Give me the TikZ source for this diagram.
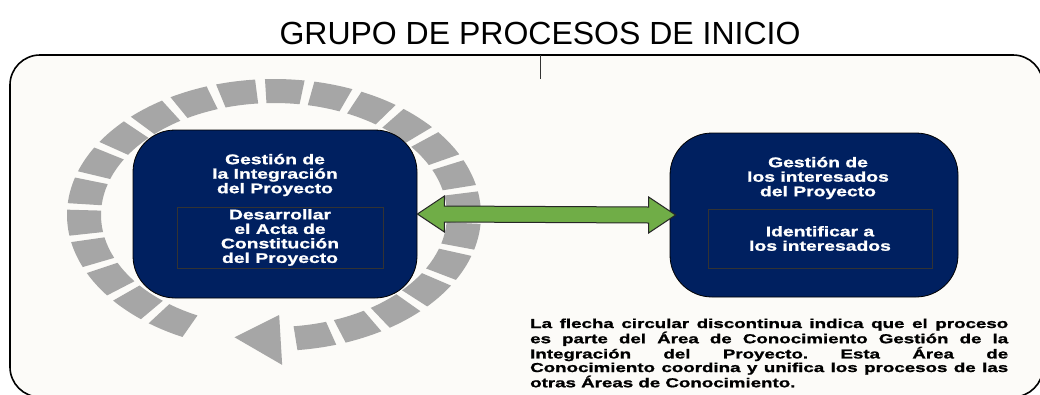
\documentclass[tikz,border=0pt]{standalone}
\usepackage{fontspec}
\usepackage{tikz}
\usetikzlibrary{calc}
\newfontfamily\titlefont{Liberation Sans}
\newfontfamily\boxfont[FakeStretch=1.38,BoldFeatures={FakeBold=1.2}]{Liberation Sans}
\newfontfamily\notefont[FakeStretch=1.44,BoldFeatures={FakeBold=1.2}]{Liberation Sans}
\definecolor{navyfill}{RGB}{0,32,96}
\definecolor{ringgray}{RGB}{166,166,166}
\definecolor{arrowgreen}{RGB}{112,173,71}
\definecolor{paper}{RGB}{252,251,248}

\begin{document}
\begin{tikzpicture}[x=1pt,y=-1pt,
    areabox/.style={draw=black,line width=0.8pt,fill=navyfill,rounded corners=42pt,inner sep=0pt},
    procbox/.style={draw=black!80,line width=0.6pt,inner sep=0pt},
    boxtext/.style={text=white,align=center,inner sep=0pt,font=\boxfont\bfseries\fontsize{14}{14.5}\selectfont},
    notetext/.style={text width=478pt,align=justify,inner sep=0pt,font=\notefont\bfseries\frenchspacing\fontsize{13}{13.6}\selectfont},
    dblarrow/.style={fill=arrowgreen,draw=black!85,line width=1pt,line join=miter}]
            \clip (0,0) rectangle (1040,394);
            \draw[line width=1.6pt,fill=paper,rounded corners=30pt] (10,55) rectangle (1043,397);
            \draw[line width=0.8pt,black!80] (540,55) -- (540,79);
            %
            \node[anchor=base,font=\titlefont\fontsize{32}{38}\selectfont] (title) at (540,44) {GRUPO DE PROCESOS DE INICIO};
            %
            % circular dashed arrow
            \begin{scope}[shift={(274,215)}]
                \foreach \k in {0,...,23} {
                    \pgfmathsetmacro{\s}{276.5+13.75*\k}
                    \pgfmathsetmacro{\e}{\s+11}
                    \fill[ringgray] (\s:207pt and 136pt) arc[start angle=\s, end angle=\e, x radius=207pt, y radius=136pt]
                        -- (\e:173pt and 112pt) arc[start angle=\e, end angle=\s, x radius=173pt, y radius=112pt] -- cycle;
                }
                \fill[ringgray] (272:234pt and 150pt) -- (258:190pt and 125pt) -- (272:148pt and 100pt) -- cycle;
            \end{scope}
            %
            \node[areabox,minimum width=284pt,minimum height=168pt] (lbox) at (275,214) {};
            \node[boxtext] (lhead) at (275,175) {Gestión de\\la Integración\\del Proyecto};
            \node[procbox,boxtext,minimum width=206pt,minimum height=61pt] (lproc) at (280,237.5) {Desarrollar\\el Acta de\\Constitución\\del Proyecto};
            %
            \node[areabox,minimum width=288pt,minimum height=164pt] (rbox) at (814,215) {};
            \node[boxtext] (rhead) at (818,178) {Gestión de\\los interesados\\del Proyecto};
            \node[procbox,boxtext,minimum width=224pt,minimum height=59pt] (rproc) at (820,238.5) {Identificar a\\los interesados};
            %
            \draw[dblarrow] (lbox.east) -- ++(27,-18) -- ++(0,10) -- ($(rbox.west)+(-21,-8)$) -- ++(0,-10)
                -- ($(rbox.west)+(6,0)$) -- ++(-27,18) -- ++(0,-10) -- ($(lbox.east)+(27,8)$) -- ++(0,10) -- cycle;
            %
            \node[notetext,anchor=base west] (note) at (530,328) {La flecha circular discontinua indica que el proceso\linebreak
                es parte del Área de Conocimiento Gestión de la\linebreak
                Integración del Proyecto. Esta Área de\linebreak
                Conocimiento coordina y unifica los procesos de las\linebreak
                otras Áreas de Conocimiento.};
        \end{tikzpicture}
\end{document}
